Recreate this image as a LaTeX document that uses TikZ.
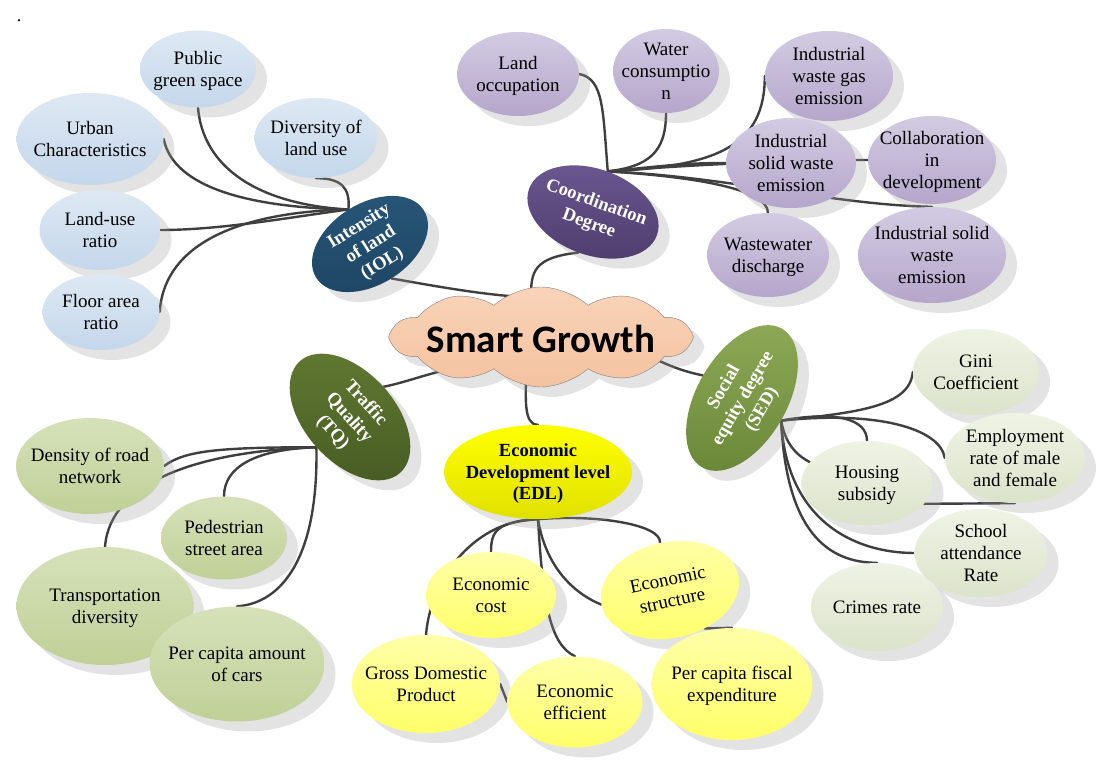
\documentclass[tikz,border=0pt]{standalone}
\usepackage{fontspec}
\setmainfont{Liberation Serif}
\newfontfamily\titlefont{Carlito}
\usepackage{tikz}
\usetikzlibrary{shapes.geometric,shapes.symbols,shadows,backgrounds,calc}
\definecolor{linkgray}{HTML}{3F3F3F}
\definecolor{iolcol}{HTML}{1E4565}
\definecolor{iolcolB}{HTML}{285677}
\definecolor{cdcol}{HTML}{4F3E6E}
\definecolor{cdcolB}{HTML}{6B5892}
\definecolor{tqcol}{HTML}{465A22}
\definecolor{tqcolB}{HTML}{627A33}
\definecolor{sedcol}{HTML}{6C893A}
\definecolor{sedcolB}{HTML}{8EAA58}
\definecolor{blueA}{HTML}{DEE8F3}
\definecolor{blueB}{HTML}{C4D7EB}
\definecolor{lilacA}{HTML}{D3CBE2}
\definecolor{lilacB}{HTML}{B5A6CB}
\definecolor{oliveA}{HTML}{D6E1BA}
\definecolor{oliveB}{HTML}{C0D097}
\definecolor{paleA}{HTML}{EFF3E5}
\definecolor{paleB}{HTML}{DBE3CA}
\definecolor{lemonA}{HTML}{FFFFA8}
\definecolor{lemonB}{HTML}{FFFF6A}
\definecolor{peachA}{HTML}{F9D3B9}
\definecolor{peachB}{HTML}{F4C2A0}
\newcommand{\tx}[1]{\makebox[0pt]{\raisebox{-.32em}[0pt][0pt]{\begin{tabular}{@{}c@{}}#1\end{tabular}}}}
\tikzset{
  castshadow/.style={drop shadow={shadow xshift=11pt, shadow yshift=-10pt, fill=black!40, opacity=.28}},
  leaf/.style={ellipse, inner sep=0pt, castshadow, font=\fontsize{19}{22}\selectfont},
  iolleaf/.style={leaf, top color=blueA, bottom color=blueB},
  cdleaf/.style={leaf, top color=lilacA, bottom color=lilacB},
  tqleaf/.style={leaf, top color=oliveA, bottom color=oliveB},
  sedleaf/.style={leaf, top color=paleA, bottom color=paleB},
  edlleaf/.style={leaf, top color=lemonA, bottom color=lemonB},
  topic/.style={ellipse, inner sep=0pt, castshadow, text=white, font=\bfseries\fontsize{18.5}{22}\selectfont},
  growth/.style={cloud, cloud puffs=10, cloud puff arc=85, cloud ignores aspect, inner sep=0pt,
    draw=black!50, top color=peachA, bottom color=peachB, castshadow,
    font=\titlefont\bfseries\fontsize{39}{44}\selectfont},
  branch/.style={draw=linkgray, line width=2.4pt, line cap=round}
}
\begin{document}
\begin{tikzpicture}[x=1pt, y=-1pt]
  \useasboundingbox (0,0) rectangle (1104,767);
  \node[font=\fontsize{18}{22}\selectfont] (dot) at (19,21) {.};

  % centre
  \node[growth, minimum width=298pt, minimum height=100pt] (sg) at (541,337) {\tx{Smart Growth}};

  % intensity of land
  \node[iolleaf, minimum width=116pt, minimum height=77pt] (green) at (198,69) {\tx{Public\\green space}};
  \node[iolleaf, minimum width=147pt, minimum height=92pt] (urban) at (90,139) {\tx{Urban\\Characteristics}};
  \node[iolleaf, minimum width=123pt, minimum height=80pt] (divers) at (316,138) {\tx{Diversity of\\land use}};
  \node[iolleaf, minimum width=121pt, minimum height=80pt] (landuse) at (100,230) {\tx{Land-use\\ratio}};
  \node[iolleaf, minimum width=117pt, minimum height=76pt] (floor) at (101,312) {\tx{Floor area\\ratio}};
  \node[topic, top color=iolcolB, bottom color=iolcol, rotate=32, minimum width=127pt, minimum height=81pt] (iol) at (370,244) {\tx{Intensity\\of land\\(IOL)}};

  % coordination degree
  \node[cdleaf, minimum width=122pt, minimum height=84pt] (occup) at (518,74) {\tx{Land\\occupation}};
  \node[cdleaf, minimum width=106pt, minimum height=84pt] (water) at (666,71) {\tx{Water\\consumptio\\n}};
  \node[cdleaf, minimum width=128pt, minimum height=90pt] (gas) at (829,76) {\tx{Industrial\\waste gas\\emission}};
  \node[cdleaf, minimum width=130pt, minimum height=90pt] (solidA) at (791,163) {\tx{Industrial\\solid waste\\emission}};
  \node[cdleaf, minimum width=128pt, minimum height=88pt] (collab) at (932,160) {\tx{Collaboration\\in\\development}};
  \node[cdleaf, minimum width=122pt, minimum height=84pt] (waste) at (768,255) {\tx{Wastewater\\discharge}};
  \node[cdleaf, minimum width=148pt, minimum height=96pt] (solidB) at (932,255) {\tx{Industrial solid\\waste\\emission}};
  \node[topic, top color=cdcolB, bottom color=cdcol, rotate=-20, minimum width=136pt, minimum height=86pt] (cd) at (593,212) {\tx{Coordination\\Degree}};

  % traffic quality
  \node[tqleaf, minimum width=148pt, minimum height=96pt] (road) at (90,466) {\tx{Density of road\\network}};
  \node[tqleaf, minimum width=126pt, minimum height=83pt] (pedes) at (224,538) {\tx{Pedestrian\\street area}};
  \node[tqleaf, minimum width=177pt, minimum height=118pt] (transp) at (105,606) {\tx{Transportation\\diversity}};
  \node[tqleaf, minimum width=175pt, minimum height=115pt] (cars) at (237,664) {\tx{Per capita amount\\of cars}};
  \node[topic, top color=tqcolB, bottom color=tqcol, rotate=-48, minimum width=150pt, minimum height=90pt] (tq) at (350,417) {\tx{Traffic\\Quality\\(TQ)}};

  % social equity degree
  \node[sedleaf, minimum width=126pt, minimum height=86pt] (gini) at (976,372) {\tx{Gini\\Coefficient}};
  \node[sedleaf, minimum width=140pt, minimum height=90pt] (employ) at (1015,458) {\tx{Employment\\rate of male\\and female}};
  \node[sedleaf, minimum width=131pt, minimum height=84pt] (house) at (867,483) {\tx{Housing\\subsidy}};
  \node[sedleaf, minimum width=132pt, minimum height=88pt] (crime) at (877,607) {\tx{Crimes rate}};
  \node[sedleaf, minimum width=133pt, minimum height=88pt] (school) at (981,553) {\tx{School\\attendance\\Rate}};
  \node[topic, top color=sedcolB, bottom color=sedcol, rotate=60, minimum width=160pt, minimum height=90pt] (sed) at (742,398) {\tx{Social\\equity degree\\(SED)}};

  % economic development level
  \node[edlleaf, minimum width=130pt, minimum height=86pt] (cost) at (491,595) {\tx{Economic\\cost}};
  \node[edlleaf, rotate=12, minimum width=140pt, minimum height=96pt] (struct) at (670,590) {\tx{Economic\\structure}};
  \node[edlleaf, minimum width=148pt, minimum height=98pt] (gdp) at (426,684) {\tx{Gross Domestic\\Product}};
  \node[edlleaf, minimum width=135pt, minimum height=91pt] (effic) at (575,702) {\tx{Economic\\efficient}};
  \node[edlleaf, minimum width=161pt, minimum height=112pt] (fiscal) at (732,684) {\tx{Per capita fiscal\\expenditure}};
  \node[topic, top color=yellow, bottom color=yellow!88!black, text=black, minimum width=188pt, minimum height=94pt] (edl) at (538,472) {\tx{Economic\\Development level\\(EDL)}};

  \coordinate (sgtop) at ($(sg.center)+(-10,-40)$);
  \coordinate (sgwest) at ($(sg.center)+(-80,30)$);
  \coordinate (sgeast) at ($(sg.center)+(100,15)$);
  \coordinate (sgbot) at ($(sg.center)+(-15,35)$);

  \begin{scope}[on background layer]
    \draw[branch] (iol.north) .. controls +(-95,-2) and +(10,50) .. (urban.east);
    \draw[branch] (iol.north) .. controls +(-90,-5) and +(5,60) .. (green.south);
    \draw[branch] (iol.north) .. controls +(2,-22) and +(25,0) .. (divers.south);
    \draw[branch] (iol.north) .. controls +(-60,8) and +(60,0) .. (landuse.east);
    \draw[branch] (iol.north) .. controls +(-95,2) and +(5,-75) .. (floor.east);
    \draw[branch] (iol.south) .. controls +(30,5) and +(-40,0) .. (sgtop);

    \draw[branch] (cd.north) .. controls +(-5,-60) and +(25,5) .. (occup.east);
    \draw[branch] (cd.north) .. controls +(40,-5) and +(0,40) .. (water.south);
    \draw[branch] (cd.north) .. controls +(110,-5) and +(0,70) .. (gas.west);
    \draw[branch] (cd.north) .. controls +(60,-6) and +(-40,0) .. (solidA.west);
    \draw[branch] (cd.north) .. controls +(100,-8) and +(-60,0) .. (collab.west);
    \draw[branch] (cd.north) .. controls +(80,5) and +(0,-25) .. (waste.north);
    \draw[branch] (cd.north) .. controls +(120,5) and +(-100,-2) .. (solidB.north);
    \draw[branch] (cd.south) .. controls +(-45,5) and +(0,-25) .. (sgtop);

    \draw[branch] (tq.south) .. controls +(-100,0) and +(20,-15) .. (road.east);
    \draw[branch] (tq.south) .. controls +(-118,4) and +(5,-65) .. (transp.north);
    \draw[branch] (tq.south) .. controls +(-60,2) and +(0,-30) .. (pedes.north);
    \draw[branch] (tq.south) .. controls +(2,110) and +(45,-3) .. (cars.north);
    \draw[branch] (tq.north) .. controls +(25,-5) and +(-30,5) .. (sgwest);

    \draw[branch] (sed.south) .. controls +(75,-8) and +(-3,35) .. (gini.west);
    \draw[branch] (sed.south) .. controls +(55,-10) and +(0,-22) .. (house.north);
    \draw[branch] (sed.south) .. controls +(95,-10) and +(-5,-30) .. (employ.west);
    \draw[branch] (sed.south) .. controls +(4,22) and +(-15,-8) .. (house.160);
    \draw[branch] (sed.south) .. controls +(5,100) and +(-60,0) .. (school.west);
    \draw[branch] (sed.south) .. controls +(5,110) and +(-50,0) .. (crime.north);
    \draw[branch] (house.-20) -- (employ.south);
    \draw[branch] (sgeast) .. controls +(20,10) and +(-25,-5) .. (sed.north);

    \draw[branch] (edl.south) .. controls +(-60,0) and +(5,-60) .. (gdp.north);
    \draw[branch] (edl.south) .. controls +(-40,3) and +(0,-22) .. (cost.north);
    \draw[branch] (edl.south) .. controls +(5,85) and +(-25,-12) .. (effic.north);
    \draw[branch] (edl.south) .. controls +(8,50) and +(-25,-10) .. (struct.west);
    \draw[branch] (edl.south) .. controls +(60,-5) and +(2,-18) .. (struct.north);
    \draw[branch] (struct.-60) -- (fiscal.north);
    \draw[branch] (gdp.east) -- (effic.west);
    \draw[branch] (sgbot) .. controls +(0,25) and +(-15,0) .. (edl.north);
  \end{scope}
\end{tikzpicture}
\end{document}
